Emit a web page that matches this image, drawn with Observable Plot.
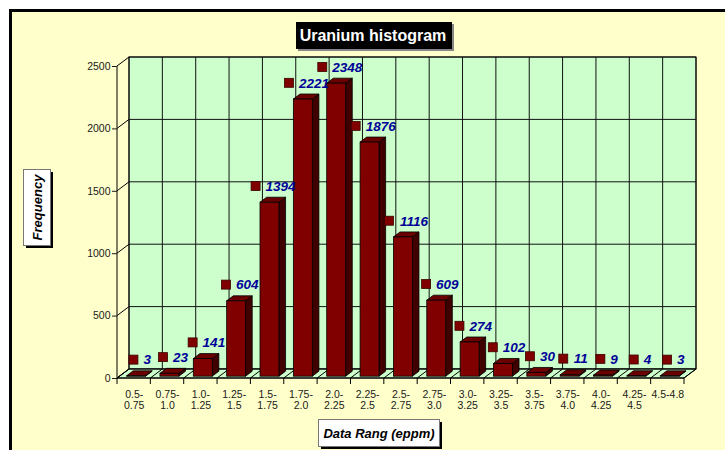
<!DOCTYPE html>
<html>
<head>
<meta charset="utf-8">
<script src="https://cdn.jsdelivr.net/npm/d3@7"></script>
<script src="https://cdn.jsdelivr.net/npm/@observablehq/plot@0.6"></script>
<style>
  html, body { margin: 0; padding: 0; background: #ffffff; }
  #chart { width: 725px; height: 450px; }
</style>
</head>
<body>
<div id="chart"></div>
<script>
// ---------- data ----------
const categories = ["0.5-0.75", "0.75-1.0", "1.0-1.25", "1.25-1.5", "1.5-1.75", "1.75-2.0",
  "2.0-2.25", "2.25-2.5", "2.5-2.75", "2.75-3.0", "3.0-3.25", "3.25-3.5", "3.5-3.75",
  "3.75-4.0", "4.0-4.25", "4.25-4.5", "4.5-4.8"];
const frequencies = [3, 23, 141, 604, 1394, 2221, 2348, 1876, 1116, 609, 274, 102, 30, 11, 9, 4, 3];
const xTickLabels = ["0.5-\n0.75", "0.75-\n1.0", "1.0-\n1.25", "1.25-\n1.5", "1.5-\n1.75", "1.75-\n2.0",
  "2.0-\n2.25", "2.25-\n2.5", "2.5-\n2.75", "2.75-\n3.0", "3.0-\n3.25", "3.25-\n3.5", "3.5-\n3.75",
  "3.75-\n4.0", "4.0-\n4.25", "4.25-\n4.5", "4.5-4.8"];
const yTicks = [0, 500, 1000, 1500, 2000, 2500];
const titleText = "Uranium histogram";
const xTitle = "Data Rang (eppm)";
const yTitle = "Frequency";

const data = categories.map((c, i) => ({range: c, count: frequencies[i]}));

// ---------- style constants ----------
const FONT = "'Liberation Sans', Arial, Helvetica, sans-serif";
const BG = "#ffffcc";
const WALL = "#ccffcc";
const BAR_FRONT = "#800000";
const BAR_SIDE = "#400000";
const BAR_TOP = "#6a0000";
const LABEL_BLUE = "#000099";
const DEPTH = [12, -9];        // wall depth offset (px)
const SHIFT = [2.4, -1.8];     // bar front face offset inside the depth
const BAR_DEPTH = [6.6, -5];   // bar depth (px)
const INSET = 7.2;             // bar inset each side within the band
const LABEL_DX = 6;            // label group centre offset from band centre
const LABEL_DY = -18;          // label centre offset above value
const DIGIT_W = 7.5;           // approx width of a digit in label font
const MARK = 9;                // marker size
const GAP = 5;

function bounds(x) {
  const bw = x.bandwidth();
  const xs = categories.map(c => x(c));
  xs.push(xs[xs.length - 1] + bw);
  return xs;
}

// background and outer border
function background(index, scales, values, dims) {
  const g = d3.create("svg:g");
  g.append("rect").attr("x", 12).attr("y", 12)
    .attr("width", dims.width - 12).attr("height", dims.height - 12).attr("fill", BG);
  g.append("path").attr("d", `M10.5,${dims.height}V10.5H${dims.width}`)
    .attr("fill", "none").attr("stroke", "#000").attr("stroke-width", 3);
  return g.node();
}

// 3D walls, floor, grid
function walls(index, {x, y}) {
  const [dx, dy] = DEPTH;
  const xs = bounds(x);
  const xl = xs[0], xr = xs[xs.length - 1];
  const y0 = y(yTicks[0]), yt = y(yTicks[yTicks.length - 1]);
  const g = d3.create("svg:g").attr("fill", "none").attr("stroke", "#000").attr("stroke-width", 1);
  const line = (x1, y1, x2, y2, s) => g.append("line").attr("x1", x1).attr("y1", y1)
      .attr("x2", x2).attr("y2", y2).attr("stroke", s || null);
  g.append("rect").attr("x", xl + dx).attr("y", yt + dy)
    .attr("width", xr - xl).attr("height", y0 - yt).attr("fill", WALL);
  g.append("path").attr("d", `M${xl},${y0}L${xr},${y0}L${xr + dx},${y0 + dy}L${xl + dx},${y0 + dy}Z`)
    .attr("fill", WALL);
  for (const t of yTicks) line(xl + dx, y(t) + dy, xr + dx, y(t) + dy, "#111");
  for (const b of xs) line(b + dx, yt + dy, b + dx, y0 + dy, "#111");
  for (const t of yTicks) line(xl, y(t), xl + dx, y(t) + dy);
  for (const b of xs) line(b, y0, b + dx, y0 + dy);
  line(xl, y0, xl, yt);
  line(xl, y0, xr, y0);
  for (const b of xs) line(b, y0, b, y0 + 6);
  return g.node();
}

// side and top faces of the 3D bars
function barFaces(index, {x, y}) {
  const bw = x.bandwidth();
  const w = bw - 2 * INSET;
  const [ddx, ddy] = BAR_DEPTH;
  const g = d3.create("svg:g").attr("stroke", "#000").attr("stroke-width", 0.8)
    .attr("stroke-linejoin", "round");
  for (const d of data) {
    const cx = x(d.range) + bw / 2 + SHIFT[0];
    const xl = cx - w / 2, xr = cx + w / 2;
    const yb = y(0) + SHIFT[1], yv = y(d.count) + SHIFT[1];
    g.append("path").attr("fill", BAR_SIDE)
      .attr("d", `M${xr},${yb}L${xr + ddx},${yb + ddy}L${xr + ddx},${yv + ddy}L${xr},${yv}Z`);
    g.append("path").attr("fill", BAR_TOP)
      .attr("d", `M${xl},${yv}L${xr},${yv}L${xr + ddx},${yv + ddy}L${xl + ddx},${yv + ddy}Z`);
  }
  return g.node();
}

// legend-key markers of the data labels
function labelMarkers(index, {x, y}) {
  const bw = x.bandwidth();
  const g = d3.create("svg:g");
  for (const d of data) {
    const c = x(d.range) + bw / 2 + LABEL_DX;
    const tw = String(d.count).length * DIGIT_W;
    const gw = MARK + GAP + tw;
    g.append("rect").attr("x", c - gw / 2).attr("y", y(d.count) + LABEL_DY - MARK / 2)
      .attr("width", MARK).attr("height", MARK)
      .attr("fill", BAR_FRONT).attr("stroke", "#3a0000").attr("stroke-width", 0.8);
  }
  return g.node();
}

// titles in boxes
function titles() {
  const g = d3.create("svg:g").attr("font-family", FONT);
  // chart title
  g.append("rect").attr("x", 298).attr("y", 24).attr("width", 156).attr("height", 27).attr("fill", "#888");
  g.append("rect").attr("x", 296).attr("y", 22).attr("width", 156).attr("height", 27).attr("fill", "#000");
  g.append("text").attr("x", 373).attr("y", 35.5).attr("dy", "0.36em")
    .attr("text-anchor", "middle").attr("fill", "#fff").attr("font-weight", "bold")
    .attr("font-size", 16).text(titleText);
  // y title
  g.append("rect").attr("x", 26).attr("y", 172).attr("width", 27).attr("height", 76).attr("fill", "#000");
  g.append("rect").attr("x", 23.5).attr("y", 169.5).attr("width", 27).attr("height", 76)
    .attr("fill", "#fff").attr("stroke", "#777").attr("stroke-width", 1);
  g.append("text").attr("transform", "translate(37,207.5) rotate(-90)").attr("dy", "0.36em")
    .attr("text-anchor", "middle").attr("font-weight", "bold").attr("font-style", "italic")
    .attr("font-size", 13).attr("fill", "#000").text(yTitle);
  // x title
  g.append("rect").attr("x", 321).attr("y", 422).attr("width", 121).attr("height", 27).attr("fill", "#000");
  g.append("rect").attr("x", 318.5).attr("y", 419.5).attr("width", 121).attr("height", 27)
    .attr("fill", "#fff").attr("stroke", "#777").attr("stroke-width", 1);
  g.append("text").attr("x", 379).attr("y", 433).attr("dy", "0.36em")
    .attr("text-anchor", "middle").attr("font-weight", "bold").attr("font-style", "italic")
    .attr("font-size", 13).attr("fill", "#000").text(xTitle);
  return g.node();
}

const chart = Plot.plot({
  width: 725,
  height: 450,
  marginLeft: 117,
  marginRight: 41,
  marginTop: 66,
  marginBottom: 72,
  style: {fontFamily: FONT, color: "#1a1a1a", background: "#ffffff", overflow: "visible"},
  x: {type: "band", domain: categories, padding: 0, round: false, label: null},
  y: {domain: [0, 2500], label: null},
  marks: [
    background,
    walls,
    barFaces,
    Plot.barY(data, {x: "range", y: "count", fill: BAR_FRONT, stroke: "#000", strokeWidth: 0.8,
      insetLeft: INSET, insetRight: INSET, dx: SHIFT[0], dy: SHIFT[1]}),
    labelMarkers,
    Plot.text(data, {x: "range", y: "count", text: d => String(d.count),
      dx: LABEL_DX + (MARK + GAP) / 2, dy: LABEL_DY, textAnchor: "middle", lineAnchor: "middle",
      fill: LABEL_BLUE, fontWeight: "bold", fontStyle: "italic", fontSize: 13.5}),
    Plot.axisY({ticks: yTicks, tickSize: 5, tickPadding: 2, fontSize: 10.5, label: null,
      tickFormat: d => String(d)}),
    Plot.axisX({tickSize: 0, tickPadding: 12, fontSize: 10.5, lineHeight: 1.05, label: null,
      tickFormat: d => xTickLabels[categories.indexOf(d)]}),
    titles
  ]
});
document.getElementById("chart").appendChild(chart);
</script>
</body>
</html>
